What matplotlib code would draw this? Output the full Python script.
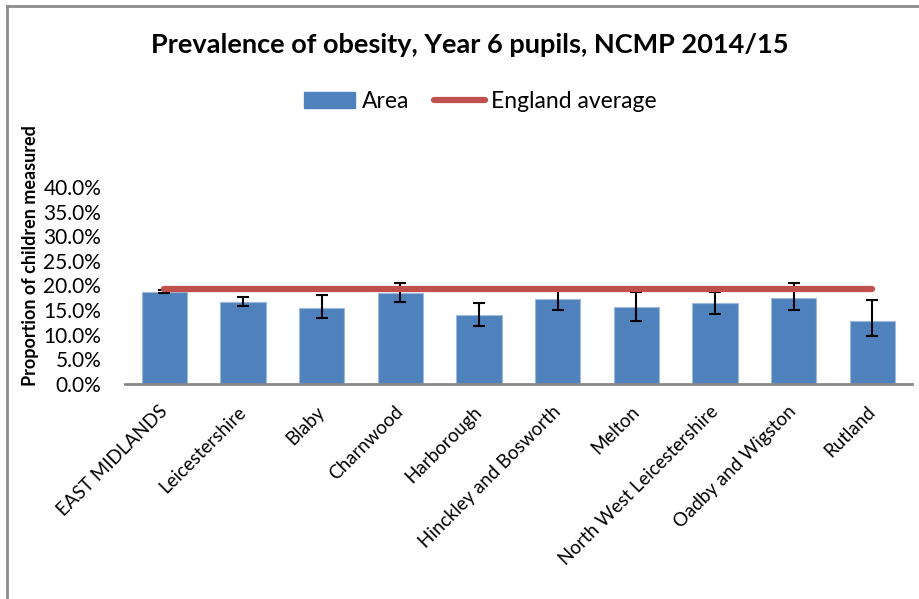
import matplotlib.pyplot as plt
from matplotlib.lines import Line2D
from matplotlib.patches import Patch
from matplotlib.ticker import FuncFormatter, MultipleLocator

plt.rcParams['font.family'] = ['Lato', 'DejaVu Sans']

areas = ["EAST MIDLANDS", "Leicestershire", "Blaby", "Charnwood", "Harborough",
         "Hinckley and Bosworth", "Melton", "North West Leicestershire",
         "Oadby and Wigston", "Rutland"]
area_pct = [18.7, 16.7, 15.4, 18.4, 14.0, 17.2, 15.7, 16.5, 17.4, 12.8]
ci_low = [18.4, 15.8, 13.4, 16.6, 11.8, 15.1, 12.7, 14.3, 15.0, 9.7]
ci_high = [19.1, 17.7, 18.0, 20.4, 16.5, 19.3, 18.7, 18.7, 20.4, 17.1]
england_pct = 19.3

blue = "#4F81BD"
red = "#C0504D"

fig = plt.figure(figsize=(9.19, 5.99), dpi=100)
ax = fig.add_axes([0.136, 0.359, 0.856, 0.329])

x = list(range(len(areas)))
vals = [v / 100 for v in area_pct]
err = [[(v - lo) / 100 for v, lo in zip(area_pct, ci_low)],
       [(hi - v) / 100 for v, hi in zip(area_pct, ci_high)]]

ax.bar(x, vals, width=0.58, color=blue, edgecolor="#9DB9DE", linewidth=0.8, zorder=2)
ax.errorbar(x, vals, yerr=err, fmt="none", ecolor="black", elinewidth=1.5,
            capsize=4, capthick=1.5, zorder=3)
ax.plot(x, [england_pct / 100] * len(x), color=red, linewidth=4.5,
        solid_capstyle="round", zorder=4)

ax.set_xlim(-0.5, len(areas) - 0.5)
ax.set_ylim(0, 0.40)
ax.yaxis.set_major_locator(MultipleLocator(0.05))
ax.yaxis.set_major_formatter(FuncFormatter(lambda v, p: f"{v * 100:.1f}%"))
ax.tick_params(axis="y", length=0, labelsize=15, pad=17)
ax.tick_params(axis="x", length=0, labelsize=13.5, pad=18)
ax.set_xticks(x)
ax.set_xticklabels(areas, rotation=45, ha="right", va="center",
                   rotation_mode="anchor")

for s in ["top", "right", "left"]:
    ax.spines[s].set_visible(False)
ax.spines["bottom"].set_color("#888888")
ax.spines["bottom"].set_linewidth(2)

fig.text(0.033, 0.573, "Proportion of children measured", rotation=90,
         fontsize=13, fontweight="bold", ha="center", va="center")
fig.text(0.511, 0.925, "Prevalence of obesity, Year 6 pupils, NCMP 2014/15",
         fontsize=19.5, fontweight="bold", ha="center", va="center")

handles = [Patch(facecolor=blue, edgecolor=blue),
           Line2D([0], [0], color=red, linewidth=4.5, solid_capstyle="round")]
fig.legend(handles, ["Area", "England average"], loc="center",
           bbox_to_anchor=(0.523, 0.831), ncol=2, frameon=False, fontsize=16.5,
           handlelength=2.2, handletextpad=0.3, columnspacing=1.1)

# outer chart border (top and left edges visible)
fig.add_artist(Line2D([0.0077, 1.0], [0.990, 0.990], transform=fig.transFigure,
                      color="#8C8C8C", linewidth=2))
fig.add_artist(Line2D([0.0077, 0.0077], [0.0, 0.990], transform=fig.transFigure,
                      color="#8C8C8C", linewidth=2))

fig.savefig("out.png", dpi=100)
